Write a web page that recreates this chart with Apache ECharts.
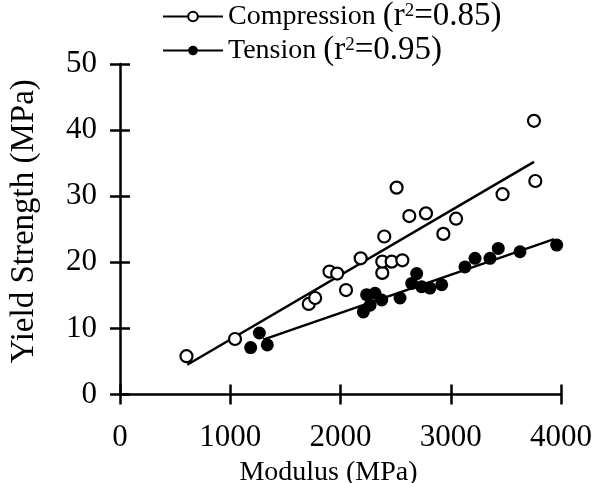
<!DOCTYPE html>
<html>
<head>
<meta charset="utf-8">
<script src="https://cdn.jsdelivr.net/npm/echarts@6/dist/echarts.min.js"></script>
<style>
  html, body { margin: 0; padding: 0; background: #fff; }
  #chart { width: 610px; height: 483px; }
</style>
</head>
<body>
<div id="chart"></div>
<script>
// ---- Data ----
const seriesNames = ['Compression', 'Tension'];
const rSquared = ['0.85', '0.95'];

const compressionModulus = [603, 1043, 1712, 1770, 1900, 1970, 2050, 2183, 2379, 2379, 2397, 2464, 2509, 2561, 2624, 2775, 2933, 3048, 3470, 3755, 3767];
const compressionYield   = [5.8, 8.4, 13.7, 14.6, 18.6, 18.3, 15.8, 20.6, 18.4, 20.1, 23.9, 20.1, 31.3, 20.3, 27.0, 27.4, 24.3, 26.6, 30.3, 41.4, 32.3];

const tensionModulus = [1185, 1264, 1336, 2207, 2237, 2268, 2313, 2374, 2540, 2646, 2691, 2736, 2812, 2918, 3129, 3220, 3356, 3431, 3628, 3961];
const tensionYield   = [7.1, 9.3, 7.5, 12.5, 15.1, 13.5, 15.3, 14.3, 14.6, 16.8, 18.3, 16.3, 16.1, 16.6, 19.3, 20.6, 20.6, 22.1, 21.6, 22.6];

// regression line end points as drawn
const compressionFitX = [610, 3755];
const compressionFitY = [4.5, 35.2];
const tensionFitX = [1299, 3937];
const tensionFitY = [8.3, 23.5];

const xTicks = [0, 1000, 2000, 3000, 4000];
const yTicks = [0, 10, 20, 30, 40, 50];

// ---- Build chart ----
const zip = (xs, ys) => xs.map((x, i) => [x, ys[i]]);
const FONT = '"Liberation Serif", "Times New Roman", serif';
const INK = '#000';

const xMin = xTicks[0], xMax = xTicks[xTicks.length - 1];
const yMin = yTicks[0], yMax = yTicks[yTicks.length - 1];
const xStep = xTicks[1] - xTicks[0];
const yStep = yTicks[1] - yTicks[0];

const chart = echarts.init(document.getElementById('chart'), null, { renderer: 'canvas' });

const baseX = {
  type: 'value', min: xMin, max: xMax, interval: xStep,
  splitLine: { show: false }
};
const baseY = {
  type: 'value', min: yMin, max: yMax, interval: yStep,
  splitLine: { show: false }
};

chart.setOption({
  backgroundColor: '#fff',
  animation: false,
  grid: {
    left: 120, right: 49, top: 64, bottom: 88.5,
    containLabel: false, outerBoundsMode: 'none'
  },
  legend: {
    data: seriesNames,
    orient: 'vertical',
    left: 162, top: 0,
    padding: 0,
    itemGap: 1,
    itemWidth: 60, itemHeight: 12,
    selectedMode: false,
    formatter: function (name) {
      const i = seriesNames.indexOf(name);
      return '{a|' + name + ' }{b|(r}{s|2}{b|=' + rSquared[i] + ')}';
    },
    textStyle: {
      color: INK,
      fontFamily: FONT,
      rich: {
        a: { fontFamily: FONT, fontSize: 28, color: INK, lineHeight: 30 },
        b: { fontFamily: FONT, fontSize: 33, color: INK, lineHeight: 30 },
        s: { fontFamily: FONT, fontSize: 19, color: INK, lineHeight: 30, verticalAlign: 'top', padding: [0, 0, 12, 0] }
      }
    }
  },
  xAxis: [
    Object.assign({}, baseX, {
      position: 'bottom',
      name: 'Modulus (MPa)',
      nameLocation: 'middle',
      nameGap: 56,
      nameTextStyle: { fontFamily: FONT, fontSize: 28, color: INK, padding: [0, 24, 0, 0] },
      axisLine: { show: true, onZero: false, lineStyle: { color: INK, width: 2.5 } },
      axisTick: { show: true, inside: false, length: 10, lineStyle: { color: INK, width: 2.5 } },
      axisLabel: {
        show: true, margin: 28, fontFamily: FONT, fontSize: 31, color: INK,
        formatter: function (v) { return String(v); }
      }
    }),
    Object.assign({}, baseX, {
      position: 'bottom',
      axisLine: { show: false, onZero: false },
      axisTick: { show: true, inside: true, length: 10, lineStyle: { color: INK, width: 2.5 } },
      axisLabel: { show: false }
    })
  ],
  yAxis: [
    Object.assign({}, baseY, {
      position: 'left',
      name: 'Yield Strength (MPa)',
      nameLocation: 'middle',
      nameGap: 79,
      nameTextStyle: { fontFamily: FONT, fontSize: 33, color: INK, padding: [0, 0, 0, 16] },
      axisLine: { show: true, onZero: false, lineStyle: { color: INK, width: 2.5 } },
      axisTick: { show: true, inside: false, length: 10, lineStyle: { color: INK, width: 2.5 } },
      axisLabel: {
        show: true, margin: 23, fontFamily: FONT, fontSize: 31, color: INK,
        formatter: function (v) { return String(v); }
      }
    }),
    Object.assign({}, baseY, {
      position: 'left',
      axisLine: { show: false, onZero: false },
      axisTick: { show: true, inside: true, length: 10, lineStyle: { color: INK, width: 2.5 } },
      axisLabel: { show: false }
    })
  ],
  series: [
    {
      name: seriesNames[0],
      type: 'line',
      data: zip(compressionFitX, compressionFitY),
      symbol: 'emptyCircle',
      showSymbol: false,
      lineStyle: { color: INK, width: 2.5 },
      itemStyle: { color: INK },
      z: 2
    },
    {
      name: seriesNames[1],
      type: 'line',
      data: zip(tensionFitX, tensionFitY),
      symbol: 'circle',
      showSymbol: false,
      lineStyle: { color: INK, width: 2.5 },
      itemStyle: { color: INK },
      z: 2
    },
    {
      name: seriesNames[0],
      type: 'scatter',
      data: zip(compressionModulus, compressionYield),
      symbol: 'circle',
      symbolSize: 12,
      itemStyle: { color: '#fff', borderColor: INK, borderWidth: 2.2, opacity: 1 },
      z: 3
    },
    {
      name: seriesNames[1],
      type: 'scatter',
      data: zip(tensionModulus, tensionYield),
      symbol: 'circle',
      symbolSize: 13,
      itemStyle: { color: INK, opacity: 1 },
      z: 3
    }
  ]
});
</script>
</body>
</html>
